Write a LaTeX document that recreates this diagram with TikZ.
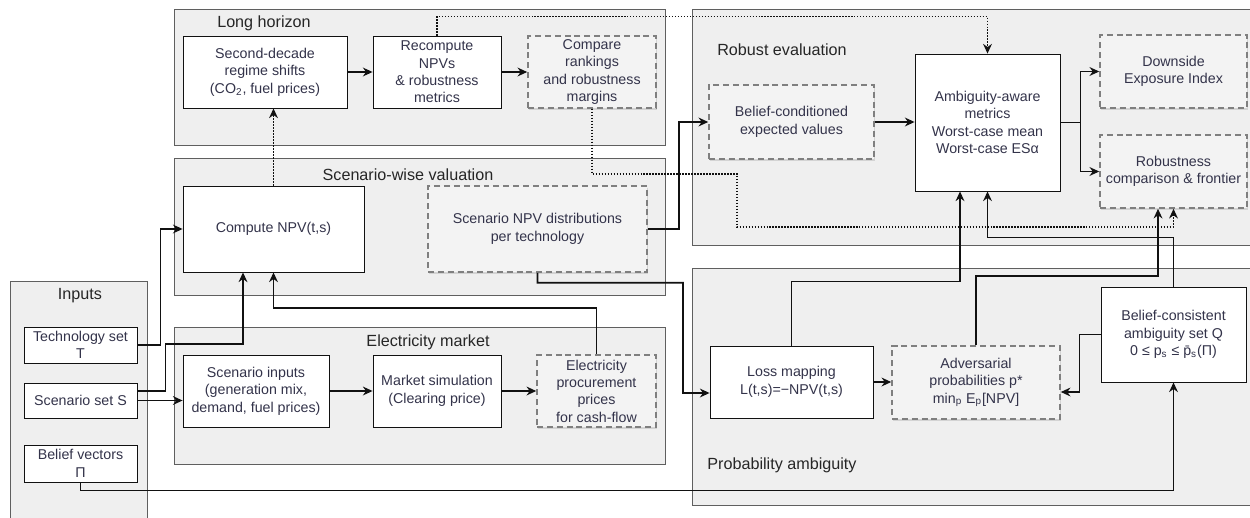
\documentclass[tikz,border=0pt]{standalone}
\usepackage{fontspec}
\setmainfont{Liberation Sans}
\usetikzlibrary{arrows.meta, shadows}
\definecolor{flowPanel}{HTML}{EFEFEF}
\definecolor{flowPanelLine}{HTML}{5F5F5F}
\definecolor{flowBox}{HTML}{FFFFFF}
\definecolor{flowDash}{HTML}{F3F3F3}
\definecolor{flowDashLine}{HTML}{7F7F7F}
\definecolor{flowText}{HTML}{33334A}
\definecolor{flowLine}{HTML}{111111}
\tikzset{
  flowfig/.style={
    x=0.02cm, y=-0.02cm,
    every node/.append style={font=\fontsize{8.1}{9.9}\selectfont},
    >={Stealth[length=5.5pt,width=5pt]},
  },
  panel/.style={draw=flowPanelLine, fill=flowPanel, line width=0.5pt},
  paneltitle/.style={font=\fontsize{9.2}{11}\selectfont, text=black!85, inner sep=0pt},
  solidbox/.style={
    draw=flowLine, fill=flowBox, line width=0.5pt, align=center,
    text=flowText, inner sep=1pt,
  },
  % Zwischenergebnisse: grau gestrichelt mit leichtem Schatten.
  dashbox/.style={
    solidbox, draw=flowDashLine, fill=flowDash, line width=0.9pt,
    dash pattern=on 3.4pt off 2.2pt,
    drop shadow={shadow xshift=0.6pt, shadow yshift=-0.9pt, opacity=0.25},
  },
  flow/.style={draw=flowLine, line width=0.9pt, ->},
  dotflow/.style={flow, dash pattern=on 0.8pt off 0.9pt},
}

\begin{document}
\begin{tikzpicture}[flowfig]
  \useasboundingbox (0,0) rectangle (1250,517);
  \draw[panel] (10,281) rectangle (147,530);
  \draw[panel] (174,9) rectangle (665,145);
  \draw[panel] (174,158) rectangle (665,295);
  \draw[panel] (174,327) rectangle (665,464);
  \draw[panel] (692,9) rectangle (1260,245);
  \draw[panel] (692,268) rectangle (1260,505);
  \node[paneltitle] (InputsLbl) at (80,296) {Inputs};
  \node[paneltitle] (LongLbl) at (264,23) {Long horizon};
  \node[paneltitle] (ValuationLbl) at (408,175) {Scenario-wise valuation};
  \node[paneltitle] (MarketLbl) at (428,342) {Electricity market};
  \node[paneltitle] (RobustLbl) at (782,50) {Robust evaluation};
  \node[paneltitle] (AmbiguityLbl) at (782,465) {Probability ambiguity};

  \node[solidbox, minimum width=2.26cm, minimum height=0.72cm] (TechSet) at (80.5,345) {Technology set\\T};
  \node[solidbox, minimum width=2.26cm, minimum height=0.70cm] (ScenSet) at (80.5,400.5) {Scenario set S};
  \node[solidbox, minimum width=2.26cm, minimum height=0.74cm] (BeliefVec) at (80.5,463.5) {Belief vectors\\Π};
  \node[solidbox, minimum width=3.28cm, minimum height=1.44cm] (RegimeShift) at (265,72) {Second-decade\\regime shifts\\(CO\textsubscript{2}, fuel prices)};
  \node[solidbox, minimum width=2.56cm, minimum height=1.44cm] (Recompute) at (437,72) {Recompute\\NPVs\\\& robustness\\metrics};
  \node[dashbox, minimum width=2.56cm, minimum height=1.44cm] (CompareRank) at (592,72) {Compare\\rankings\\and robustness\\margins};
  \node[solidbox, minimum width=3.62cm, minimum height=1.72cm] (ComputeNPV) at (273.5,229) {Compute NPV(t,s)};
  \node[dashbox, minimum width=4.38cm, minimum height=1.72cm] (NPVDist) at (537.5,229) {Scenario NPV distributions\\per technology};
  \node[solidbox, minimum width=2.92cm, minimum height=1.44cm] (ScenInputs) at (256,391) {Scenario inputs\\(generation mix,\\demand, fuel prices)};
  \node[solidbox, minimum width=2.56cm, minimum height=1.44cm] (MarketSim) at (437,391) {Market simulation\\(Clearing price)};
  \node[dashbox, minimum width=2.38cm, minimum height=1.44cm] (ProcPrices) at (596.5,391) {Electricity\\procurement\\prices\\for cash-flow};
  \node[dashbox, minimum width=3.30cm, minimum height=1.48cm] (CondExp) at (791.5,122) {Belief-conditioned\\expected values};
  \node[solidbox, minimum width=2.90cm, minimum height=2.74cm] (AmbMetrics) at (987.5,122.5) {Ambiguity-aware\\metrics\\Worst-case mean\\Worst-case ESα};
  \node[dashbox, minimum width=2.94cm, minimum height=1.46cm] (Downside) at (1173.5,71.5) {Downside\\Exposure Index};
  \node[dashbox, minimum width=2.94cm, minimum height=1.46cm] (RobComp) at (1173.5,171.5) {Robustness\\comparison \& frontier};
  \node[solidbox, minimum width=3.26cm, minimum height=1.44cm] (LossMap) at (791.5,382) {Loss mapping\\L(t,s)=−NPV(t,s)};
  \node[dashbox, minimum width=3.36cm, minimum height=1.46cm] (AdvProb) at (976,382.5) {Adversarial\\probabilities p*\\min\textsubscript{p} E\textsubscript{p}[NPV]};
  \node[solidbox, minimum width=2.90cm, minimum height=1.90cm] (AmbSet) at (1173.5,334.5) {Belief-consistent\\ambiguity set Q\\0 ≤ p\textsubscript{s} ≤ \={p}\textsubscript{s}(Π)};

  \draw[flow] (RegimeShift) -- (Recompute);
  \draw[flow] (Recompute) -- (CompareRank);
  \draw[dotflow] (ComputeNPV.north) -- (ComputeNPV.north |- RegimeShift.south);
  \draw[dotflow] (Recompute.north) -- ++(0,-19) -| (AmbMetrics.north);
  \draw[dotflow] (CompareRank.south) -- ++(0,65) -| (737,227) -| (RobComp.south);
  \draw[flow] (TechSet.east) -- ++(23,0) |- (ComputeNPV.west);
  \draw[flow] ([yshift=0.19cm]ScenSet.east) -- ++(28,0) -- ++(0,-47) -| ([xshift=-0.61cm]ComputeNPV.south);
  \draw[flow] (ScenSet.east) -- (ScenSet.east -| ScenInputs.west);
  \draw[flow] (ProcPrices.north) -- ++(0,-46) -| (ComputeNPV.south);
  \draw[flow] (ScenInputs) -- (MarketSim);
  \draw[flow] (MarketSim) -- (ProcPrices);
  \draw[flow] (NPVDist.east) -- ++(31,0) |- (CondExp.west);
  \draw[flow] (NPVDist.south) -- ++(0,10) -| (683,393) -- ([yshift=-0.22cm]LossMap.west);
  \draw[flow] (CondExp.east) -- (CondExp.east -| AmbMetrics.west);
  \draw[flow] (AmbMetrics.east) -- ++(20,0) |- (Downside.west);
  \draw[flow] (AmbMetrics.east) -- ++(20,0) |- (RobComp.west);
  \draw[flow] (LossMap.east) -- (LossMap.east -| AdvProb.west);
  \draw[flow] (AmbSet.west) -- ++(-21,0) |- ([yshift=-0.19cm]AdvProb.east);
  \draw[flow] (BeliefVec.south) -- ++(0,8) -| (AmbSet.south);
  \draw[flow] (LossMap.north) -- ++(0,-64) -| ([xshift=-0.55cm]AmbMetrics.south);
  \draw[flow] (AdvProb.north) -- ++(0,-69) -| ([xshift=-0.31cm]RobComp.south);
  \draw[flow] (AmbSet.north) -- ++(0,-49) -| (AmbMetrics.south);
\end{tikzpicture}
\end{document}
